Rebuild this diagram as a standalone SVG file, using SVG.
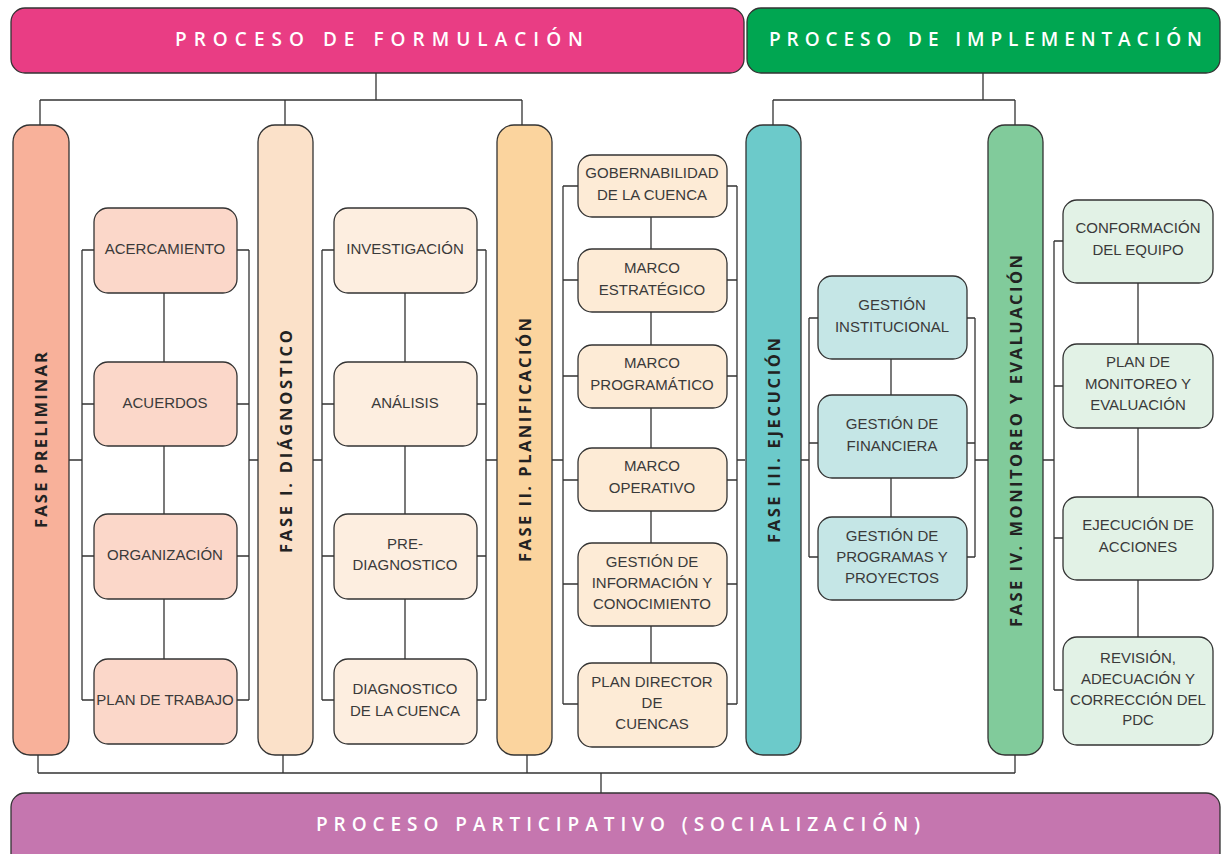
<svg xmlns="http://www.w3.org/2000/svg" width="1221" height="854" viewBox="0 0 1221 854">
<style>
.ln{fill:none;stroke:#333;stroke-width:1.3}
.bx{stroke:#333;stroke-width:1.3}
.ban{font-family:"Open Sans","Liberation Sans",sans-serif;font-weight:600;font-size:19px;fill:#fff}
.ph{font-family:"Open Sans","Liberation Sans",sans-serif;font-weight:700;font-size:16.5px;fill:#222}
.t{font-family:"Liberation Sans","Open Sans",sans-serif;font-size:15px;fill:#3a3a3a;text-anchor:middle}
.p0{fill:#FBD7C9}.p1{fill:#FDEEE0}.p2{fill:#FDEBD6}.p3{fill:#C5E6E6}.p4{fill:#E2F2E6}
</style>
<rect width="1221" height="854" fill="#fff"/>
<g id="connectors" class="ln">
<path d="M376 73V100M40 100H522M40 100V125M285 100V125M522 100V125"/>
<path d="M983 73V100M773 100H1015M773 100V125M1015 100V125"/>
<path d="M38 755V773M283 755V773M527 755V773M1015 755V773M38 773H1015M601 773V793"/>
<path d="M69 460H82M82 250V700M82 250H94M82 404H94M82 556H94M82 700H94M164 293V362M164 446V514M164 599V659M237 250H249M237 404H249M237 556H249M237 700H249M249 250V700M249 460H258"/>
<path d="M313 460H322M322 250V700M322 250H334M322 404H334M322 556H334M322 700H334M405 293V362M405 446V514M405 599V659M477 250H486M477 404H486M477 556H486M477 700H486M486 250V700M486 460H497"/>
<path d="M552 460H563M563 186V704M563 186H578M563 280H578M563 376H578M563 480H578M563 584H578M563 704H578M651 217V249M651 312V345M651 408V448M651 511V543M651 626V663M727 186H737M727 280H737M727 376H737M727 480H737M727 584H737M727 704H737M737 186V704M737 460H745"/>
<path d="M801 460H809M809 318V557M809 318H818M809 443H818M809 557H818M891 359V395M891 478V517M967 318H975M967 443H975M967 557H975M975 318V557M975 460H988"/>
<path d="M1043 460H1054M1054 241V690M1054 241H1063M1054 386H1063M1054 538H1063M1054 690H1063M1138 283V344M1138 428V497M1138 580V637"/>
</g>
<g id="proceso-formulacion">
<rect class="bx" x="11" y="8" width="733" height="65" rx="14" fill="#E93D84"/>
<text class="ban" x="175" y="46" textLength="408" lengthAdjust="spacing">PROCESO DE FORMULACIÓN</text>
</g>
<g id="proceso-implementacion">
<rect class="bx" x="747" y="8" width="473" height="65" rx="14" fill="#00A651"/>
<text class="ban" x="769" y="46" textLength="433" lengthAdjust="spacing">PROCESO DE IMPLEMENTACIÓN</text>
</g>
<g id="proceso-participativo">
<rect class="bx" x="11" y="793" width="1209" height="80" rx="14" fill="#C576AF"/>
<text class="ban" x="316" y="831" textLength="604" lengthAdjust="spacing">PROCESO PARTICIPATIVO (SOCIALIZACIÓN)</text>
</g>
<g id="fase-preliminar">
<rect class="bx" x="13" y="125" width="56" height="630" rx="17" fill="#F8B19A"/>
<text class="ph" transform="translate(47,528) rotate(-90)" textLength="176" lengthAdjust="spacing">FASE PRELIMINAR</text>
</g>
<g id="fase-diagnostico">
<rect class="bx" x="258" y="125" width="55" height="630" rx="17" fill="#FBE1C9"/>
<text class="ph" transform="translate(292,553) rotate(-90)" textLength="223" lengthAdjust="spacing">FASE I. DIÁGNOSTICO</text>
</g>
<g id="fase-planificacion">
<rect class="bx" x="497" y="125" width="55" height="630" rx="17" fill="#FBD49E"/>
<text class="ph" transform="translate(531,562) rotate(-90)" textLength="244" lengthAdjust="spacing">FASE II. PLANIFICACIÓN</text>
</g>
<g id="fase-ejecucion">
<rect class="bx" x="746" y="125" width="55" height="630" rx="17" fill="#6CCACA"/>
<text class="ph" transform="translate(780,543) rotate(-90)" textLength="205" lengthAdjust="spacing">FASE III. EJECUCIÓN</text>
</g>
<g id="fase-monitoreo">
<rect class="bx" x="988" y="125" width="55" height="630" rx="17" fill="#81CB9B"/>
<text class="ph" transform="translate(1022,627) rotate(-90)" textLength="372" lengthAdjust="spacing">FASE IV. MONITOREO Y EVALUACIÓN</text>
</g>
<g id="acercamiento"><rect class="bx p0" x="94" y="208" width="143" height="85" rx="14"/><text class="t" x="165" y="254">ACERCAMIENTO</text></g>
<g id="acuerdos"><rect class="bx p0" x="94" y="362" width="143" height="84" rx="14"/><text class="t" x="165" y="408">ACUERDOS</text></g>
<g id="organizacion"><rect class="bx p0" x="94" y="514" width="143" height="85" rx="14"/><text class="t" x="165" y="560">ORGANIZACIÓN</text></g>
<g id="plan-trabajo"><rect class="bx p0" x="94" y="659" width="143" height="85" rx="14"/><text class="t" x="165" y="705">PLAN DE TRABAJO</text></g>
<g id="investigacion"><rect class="bx p1" x="334" y="208" width="143" height="85" rx="14"/><text class="t" x="405" y="254">INVESTIGACIÓN</text></g>
<g id="analisis"><rect class="bx p1" x="334" y="362" width="143" height="84" rx="14"/><text class="t" x="405" y="408">ANÁLISIS</text></g>
<g id="prediagnostico"><rect class="bx p1" x="334" y="514" width="143" height="85" rx="14"/><text class="t" x="405" y="549">PRE-</text><text class="t" x="405" y="570">DIAGNOSTICO</text></g>
<g id="diagnostico-cuenca"><rect class="bx p1" x="334" y="659" width="143" height="85" rx="14"/><text class="t" x="405" y="694">DIAGNOSTICO</text><text class="t" x="405" y="716">DE LA CUENCA</text></g>
<g id="gobernabilidad"><rect class="bx p2" x="578" y="155" width="149" height="62" rx="14"/><text class="t" x="652" y="178">GOBERNABILIDAD</text><text class="t" x="652" y="200">DE LA CUENCA</text></g>
<g id="marco-estrategico"><rect class="bx p2" x="578" y="249" width="149" height="63" rx="14"/><text class="t" x="652" y="273">MARCO</text><text class="t" x="652" y="295">ESTRATÉGICO</text></g>
<g id="marco-programatico"><rect class="bx p2" x="578" y="345" width="149" height="63" rx="14"/><text class="t" x="652" y="368">MARCO</text><text class="t" x="652" y="390">PROGRAMÁTICO</text></g>
<g id="marco-operativo"><rect class="bx p2" x="578" y="448" width="149" height="63" rx="14"/><text class="t" x="652" y="471">MARCO</text><text class="t" x="652" y="493">OPERATIVO</text></g>
<g id="gestion-informacion"><rect class="bx p2" x="578" y="543" width="149" height="83" rx="14"/><text class="t" x="652" y="567">GESTIÓN DE</text><text class="t" x="652" y="588">INFORMACIÓN Y</text><text class="t" x="652" y="609">CONOCIMIENTO</text></g>
<g id="plan-director"><rect class="bx p2" x="578" y="663" width="149" height="84" rx="14"/><text class="t" x="652" y="687">PLAN DIRECTOR</text><text class="t" x="652" y="708">DE</text><text class="t" x="652" y="729">CUENCAS</text></g>
<g id="gestion-institucional"><rect class="bx p3" x="818" y="276" width="149" height="83" rx="14"/><text class="t" x="892" y="310">GESTIÓN</text><text class="t" x="892" y="332">INSTITUCIONAL</text></g>
<g id="gestion-financiera"><rect class="bx p3" x="818" y="395" width="149" height="83" rx="14"/><text class="t" x="892" y="429">GESTIÓN DE</text><text class="t" x="892" y="451">FINANCIERA</text></g>
<g id="gestion-programas"><rect class="bx p3" x="818" y="517" width="149" height="83" rx="14"/><text class="t" x="892" y="541">GESTIÓN DE</text><text class="t" x="892" y="562">PROGRAMAS Y</text><text class="t" x="892" y="583">PROYECTOS</text></g>
<g id="conformacion-equipo"><rect class="bx p4" x="1063" y="200" width="150" height="83" rx="14"/><text class="t" x="1138" y="233">CONFORMACIÓN</text><text class="t" x="1138" y="255">DEL EQUIPO</text></g>
<g id="plan-monitoreo"><rect class="bx p4" x="1063" y="344" width="150" height="84" rx="14"/><text class="t" x="1138" y="367">PLAN DE</text><text class="t" x="1138" y="389">MONITOREO Y</text><text class="t" x="1138" y="410">EVALUACIÓN</text></g>
<g id="ejecucion-acciones"><rect class="bx p4" x="1063" y="497" width="150" height="83" rx="14"/><text class="t" x="1138" y="530">EJECUCIÓN DE</text><text class="t" x="1138" y="552">ACCIONES</text></g>
<g id="revision-pdc"><rect class="bx p4" x="1063" y="637" width="150" height="108" rx="14"/><text class="t" x="1138" y="663">REVISIÓN,</text><text class="t" x="1138" y="684">ADECUACIÓN Y</text><text class="t" x="1138" y="705">CORRECCIÓN DEL</text><text class="t" x="1138" y="725">PDC</text></g>
</svg>
